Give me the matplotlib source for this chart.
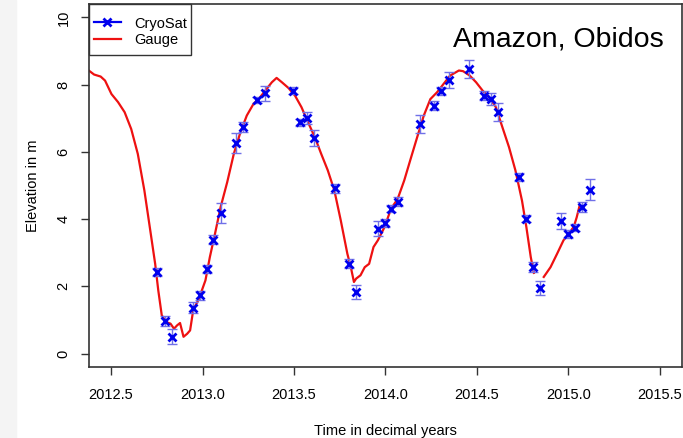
import matplotlib
matplotlib.use("Agg")
import matplotlib.pyplot as plt
import numpy as np

plt.rcParams['font.family'] = ['Liberation Sans', 'DejaVu Sans']

# CryoSat altimetry heights (m) with error bar half-widths
cryo_t = [2012.753, 2012.794, 2012.832, 2012.947, 2012.985, 2013.025, 2013.059, 2013.102,
          2013.183, 2013.221, 2013.298, 2013.341, 2013.494, 2013.532, 2013.572, 2013.608,
          2013.723, 2013.799, 2013.840, 2013.957, 2013.997, 2014.033, 2014.069, 2014.191,
          2014.267, 2014.306, 2014.349, 2014.458, 2014.537, 2014.578, 2014.616, 2014.731,
          2014.769, 2014.807, 2014.848, 2014.962, 2014.998, 2015.039, 2015.077, 2015.118]
cryo_h = [2.43, 0.97, 0.50, 1.37, 1.73, 2.51, 3.39, 4.19,
          6.26, 6.75, 7.54, 7.74, 7.82, 6.88, 7.01, 6.41,
          4.92, 2.67, 1.83, 3.72, 3.88, 4.31, 4.52, 6.83,
          7.37, 7.80, 8.14, 8.47, 7.67, 7.57, 7.18, 5.25,
          4.01, 2.57, 1.96, 3.94, 3.56, 3.74, 4.36, 4.88]
cryo_err = [0.12, 0.14, 0.22, 0.17, 0.13, 0.12, 0.13, 0.30,
            0.29, 0.15, 0.10, 0.23, 0.10, 0.10, 0.19, 0.25,
            0.13, 0.13, 0.20, 0.23, 0.12, 0.10, 0.13, 0.28,
            0.13, 0.12, 0.24, 0.26, 0.13, 0.19, 0.26, 0.13,
            0.10, 0.15, 0.21, 0.23, 0.12, 0.10, 0.15, 0.30]

# river gauge record (m), NaN marks a data gap
gauge_t = [2012.378, 2012.407, 2012.443, 2012.467, 2012.502, 2012.538, 2012.574, 2012.610,
           2012.646, 2012.682, 2012.717, 2012.741, 2012.758, 2012.777, 2012.801, 2012.825,
           2012.844, 2012.861, 2012.877, 2012.896, 2012.916, 2012.932, 2012.949, 2012.980,
           2013.016, 2013.040, 2013.068, 2013.099, 2013.135, 2013.171, 2013.207, 2013.242,
           2013.279, 2013.314, 2013.350, 2013.379, 2013.405, 2013.434, 2013.470, 2013.506,
           2013.541, 2013.577, 2013.614, 2013.649, 2013.685, 2013.721, 2013.756, 2013.792,
           2013.811, 2013.828, 2013.840, 2013.864, 2013.887, 2013.911, 2013.935, 2013.959,
           2013.995, 2014.031, 2014.067, 2014.103, 2014.138, 2014.174, 2014.210, 2014.246,
           2014.282, 2014.318, 2014.354, 2014.402, 2014.425, 2014.461, 2014.496, 2014.532,
           2014.568, 2014.604, 2014.640, 2014.676, 2014.711, 2014.747, 2014.771, 2014.795,
           2014.812, 2014.840, 2014.866, 2014.903, 2014.939, 2014.974, 2015.000, 2015.030,
           2015.046, 2015.062]
gauge_h = [8.42, 8.30, 8.24, 8.12, 7.72, 7.48, 7.18, 6.68,
           5.94, 4.85, 3.56, 2.67, 1.88, 1.14, 0.94, 0.89,
           0.74, 0.84, 0.91, 0.50, 0.59, 0.69, 1.29, 1.63,
           2.18, 2.87, 3.56, 4.36, 5.10, 5.94, 6.58, 7.08,
           7.43, 7.62, 7.87, 8.07, 8.20, 8.07, 7.90, 7.67,
           7.33, 6.88, 6.44, 5.94, 5.45, 4.85, 3.96, 2.97,
           2.57, 2.13, 2.23, 2.33, 2.57, 2.67, 3.17, 3.37,
           3.76, 4.31, 4.60, 5.15, 5.79, 6.44, 7.08, 7.57,
           7.77, 8.02, 8.27, 8.42, 8.40, 8.27, 8.07, 7.82,
           7.62, 7.33, 6.73, 6.14, 5.45, 4.55, 3.76, 2.87,
           2.40, np.nan, 2.28, 2.57, 2.97, 3.37, 3.55, 3.77,
           4.05, 4.40]

x_ticks = [2012.5, 2013.0, 2013.5, 2014.0, 2014.5, 2015.0, 2015.5]
y_ticks = [0, 2, 4, 6, 8, 10]

fig = plt.figure(figsize=(6.83, 4.38), dpi=100)
# faint grey strip on the left edge of the screenshot
fig.patches.append(plt.Rectangle((0, 0), 0.024, 1, transform=fig.transFigure,
                                 color='#f4f4f4', zorder=0))
ax = fig.add_axes([0.130, 0.162, 0.868, 0.829])

ax.plot(gauge_t, gauge_h, color='#ee1111', lw=1.6, label='Gauge', zorder=2)
ax.errorbar(cryo_t, cryo_h, yerr=cryo_err, fmt='none', ecolor='#7070e8',
            elinewidth=1.0, capsize=3.5, capthick=1.0, zorder=3)
ax.plot(cryo_t, cryo_h, 'x', color='#0000ee', ms=6, mew=2, zorder=4)
# legend handle: line with x marker
ax.plot([], [], '-x', color='#0000ee', ms=6, mew=2, lw=1.6, label='CryoSat')

ax.set_xlim(2012.378, 2015.62)
ax.set_ylim(-0.4, 10.4)
ax.set_xticks(x_ticks)
ax.set_xticklabels([f"{t:.1f}" for t in x_ticks])
ax.set_yticks(y_ticks)
ax.set_yticklabels([str(t) for t in y_ticks], rotation=90, va='center')
ax.tick_params(direction='out', length=6, width=1, labelsize=10.5, color='#333333')
ax.tick_params(axis='x', pad=9)
ax.tick_params(axis='y', pad=7)
for s in ax.spines.values():
    s.set_linewidth(1.2)
    s.set_color('#333333')

ax.set_xlabel('Time in decimal years', fontsize=10.5, labelpad=16)
ax.set_ylabel('Elevation in m', fontsize=10.5, labelpad=12)

ax.text(0.97, 0.8815, 'Amazon, Obidos', transform=ax.transAxes, ha='right',
        va='baseline', fontsize=20.5)

# R-style legend box: wide vertical padding, tight horizontal padding
ax.add_patch(plt.Rectangle((0, 0.8595), 0.1725, 0.1405, transform=ax.transAxes,
                           facecolor='white', edgecolor='#333333', lw=1.0,
                           zorder=4.5, clip_on=False))
h, l = ax.get_legend_handles_labels()
leg = ax.legend([h[1], h[0]], [l[1], l[0]], loc='upper left', fontsize=10.5,
                frameon=False, borderaxespad=0, bbox_to_anchor=(0.002, 0.976),
                handlelength=1.85, handletextpad=0.9, borderpad=0.27,
                labelspacing=0.165)
leg.set_zorder(5)

fig.savefig('out.png', dpi=100)
